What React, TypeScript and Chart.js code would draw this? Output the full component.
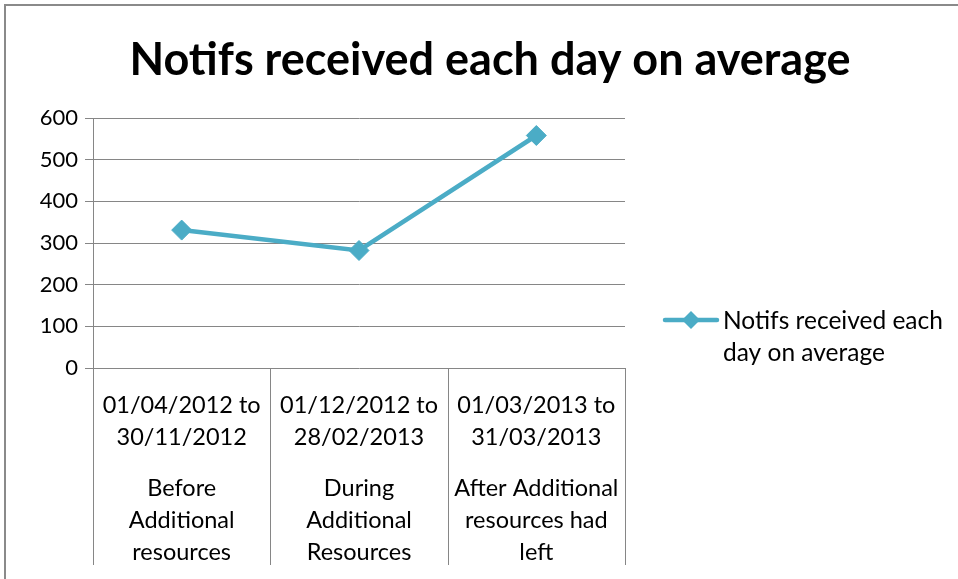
import React, { useEffect, useRef } from "react";
import { Chart, registerables } from "chart.js";

Chart.register(...registerables);

// ---- data ----
const chartTitle = "Notifs received each day on average";
const seriesName = "Notifs received each day on average";
const legendLines = ["Notifs received each", "day on average"];
const dateRanges = [
  ["01/04/2012 to", "30/11/2012"],
  ["01/12/2012 to", "28/02/2013"],
  ["01/03/2013 to", "31/03/2013"],
];
const phases = [
  ["Before", "Additional", "resources"],
  ["During", "Additional", "Resources"],
  ["After Additional", "resources had", "left"],
];
const notifsPerDay = [331, 282, 558];
const yTicks = [0, 100, 200, 300, 400, 500, 600];

// ---- styles ----
const FONT = "Lato, 'Open Sans', sans-serif";
const LINE_COLOR = "#4BACC6";
const GRID_COLOR = "#868686";

const separatorsPlugin = {
  id: "separators",
  afterDraw(chart: any) {
    const x = chart.scales.x;
    const x2 = chart.scales.x2;
    const n = x.getLabels().length;
    const p0 = x.getPixelForValue(0);
    const p1 = x.getPixelForValue(1);
    const half = (p1 - p0) / 2;
    const ctx = chart.ctx;
    ctx.save();
    ctx.strokeStyle = GRID_COLOR;
    ctx.lineWidth = 1;
    for (let i = 0; i <= n; i++) {
      const px = Math.round(p0 - half + i * 2 * half) + 0.5;
      ctx.beginPath();
      ctx.moveTo(px, chart.chartArea.bottom);
      ctx.lineTo(px, x2.bottom);
      ctx.stroke();
    }
    ctx.restore();
  },
};

const titlePlugin = {
  id: "customTitle",
  afterDraw(chart: any) {
    const ctx = chart.ctx;
    ctx.save();
    ctx.fillStyle = "#000";
    ctx.font = `bold 45px ${FONT}`;
    ctx.textAlign = "center";
    ctx.textBaseline = "alphabetic";
    ctx.fillText(chartTitle, 490, 75);
    ctx.restore();
  },
};

const legendPlugin = {
  id: "customLegend",
  afterDraw(chart: any) {
    const ctx = chart.ctx;
    const ds = chart.data.datasets[0];
    const y = 320;
    ctx.save();
    ctx.strokeStyle = ds.borderColor;
    ctx.lineWidth = 4.5;
    ctx.lineCap = "round";
    ctx.beginPath();
    ctx.moveTo(665, y);
    ctx.lineTo(717, y);
    ctx.stroke();
    ctx.fillStyle = ds.pointBackgroundColor;
    const r = 9;
    ctx.beginPath();
    ctx.moveTo(691 - r, y);
    ctx.lineTo(691, y - r);
    ctx.lineTo(691 + r, y);
    ctx.lineTo(691, y + r);
    ctx.closePath();
    ctx.fill();
    ctx.fillStyle = "#000";
    ctx.font = `24.5px ${FONT}`;
    ctx.textAlign = "left";
    ctx.textBaseline = "alphabetic";
    legendLines.forEach((t, i) => ctx.fillText(t, 723, 329 + i * 32));
    ctx.restore();
  },
};

export default function App() {
  const canvasRef = useRef<HTMLCanvasElement | null>(null);

  useEffect(() => {
    document.body.style.margin = "0";
    document.body.style.background = "#fff";
    const canvas = canvasRef.current;
    if (!canvas) return;
    const tickFont = { family: FONT, size: 23.5, lineHeight: "32px" };
    const chart = new Chart(canvas, {
      type: "line",
      data: {
        labels: dateRanges as any,
        datasets: [
          {
            label: seriesName,
            data: notifsPerDay,
            borderColor: LINE_COLOR,
            backgroundColor: LINE_COLOR,
            borderWidth: 4.5,
            pointStyle: "rectRot",
            pointRadius: 10,
            pointHoverRadius: 10,
            pointBackgroundColor: LINE_COLOR,
            pointBorderColor: LINE_COLOR,
            pointBorderWidth: 1,
            tension: 0,
            fill: false,
          },
        ],
      },
      options: {
        animation: false,
        responsive: true,
        maintainAspectRatio: false,
        layout: { padding: { top: 118, right: 333, bottom: 14, left: 0 } },
        plugins: {
          legend: { display: false },
          title: { display: false },
          tooltip: { enabled: false },
        },
        scales: {
          x: {
            type: "category",
            position: "bottom",
            weight: 1,
            offset: true,
            grid: { display: false, drawTicks: false },
            border: { display: false },
            ticks: {
              autoSkip: false,
              maxRotation: 0,
              minRotation: 0,
              padding: 21,
              color: "#000",
              font: tickFont as any,
            },
            afterFit: (s: any) => {
              s.height = 104;
            },
          },
          x2: {
            type: "category",
            labels: phases as any,
            position: "bottom",
            weight: 2,
            offset: true,
            grid: { display: false, drawTicks: false },
            border: { display: false },
            ticks: {
              autoSkip: false,
              maxRotation: 0,
              minRotation: 0,
              padding: 0,
              color: "#000",
              font: tickFont as any,
            },
            afterFit: (s: any) => {
              s.height = 93;
            },
          },
          y: {
            min: yTicks[0],
            max: yTicks[yTicks.length - 1],
            afterBuildTicks: (s: any) => {
              s.ticks = yTicks.map((v) => ({ value: v }));
            },
            ticks: {
              padding: 7,
              color: "#000",
              font: { family: FONT, size: 22 },
            },
            grid: { color: GRID_COLOR, lineWidth: 1, tickLength: 8 },
            border: { color: GRID_COLOR, width: 1 },
            afterFit: (s: any) => {
              s.width = 93;
            },
          },
        },
      },
      plugins: [separatorsPlugin, titlePlugin, legendPlugin],
    });
    return () => chart.destroy();
  }, []);

  return (
    <div style={{ position: "relative", width: 958, height: 579, overflow: "hidden", background: "#fff" }}>
      <div
        style={{
          position: "absolute",
          left: 4,
          top: 4,
          width: 1200,
          height: 1200,
          borderLeft: "2px solid #8a8a8a",
          borderTop: "2px solid #8a8a8a",
        }}
      />
      <div style={{ position: "absolute", left: 0, top: 0, width: 958, height: 579 }}>
        <canvas ref={canvasRef} />
      </div>
    </div>
  );
}
